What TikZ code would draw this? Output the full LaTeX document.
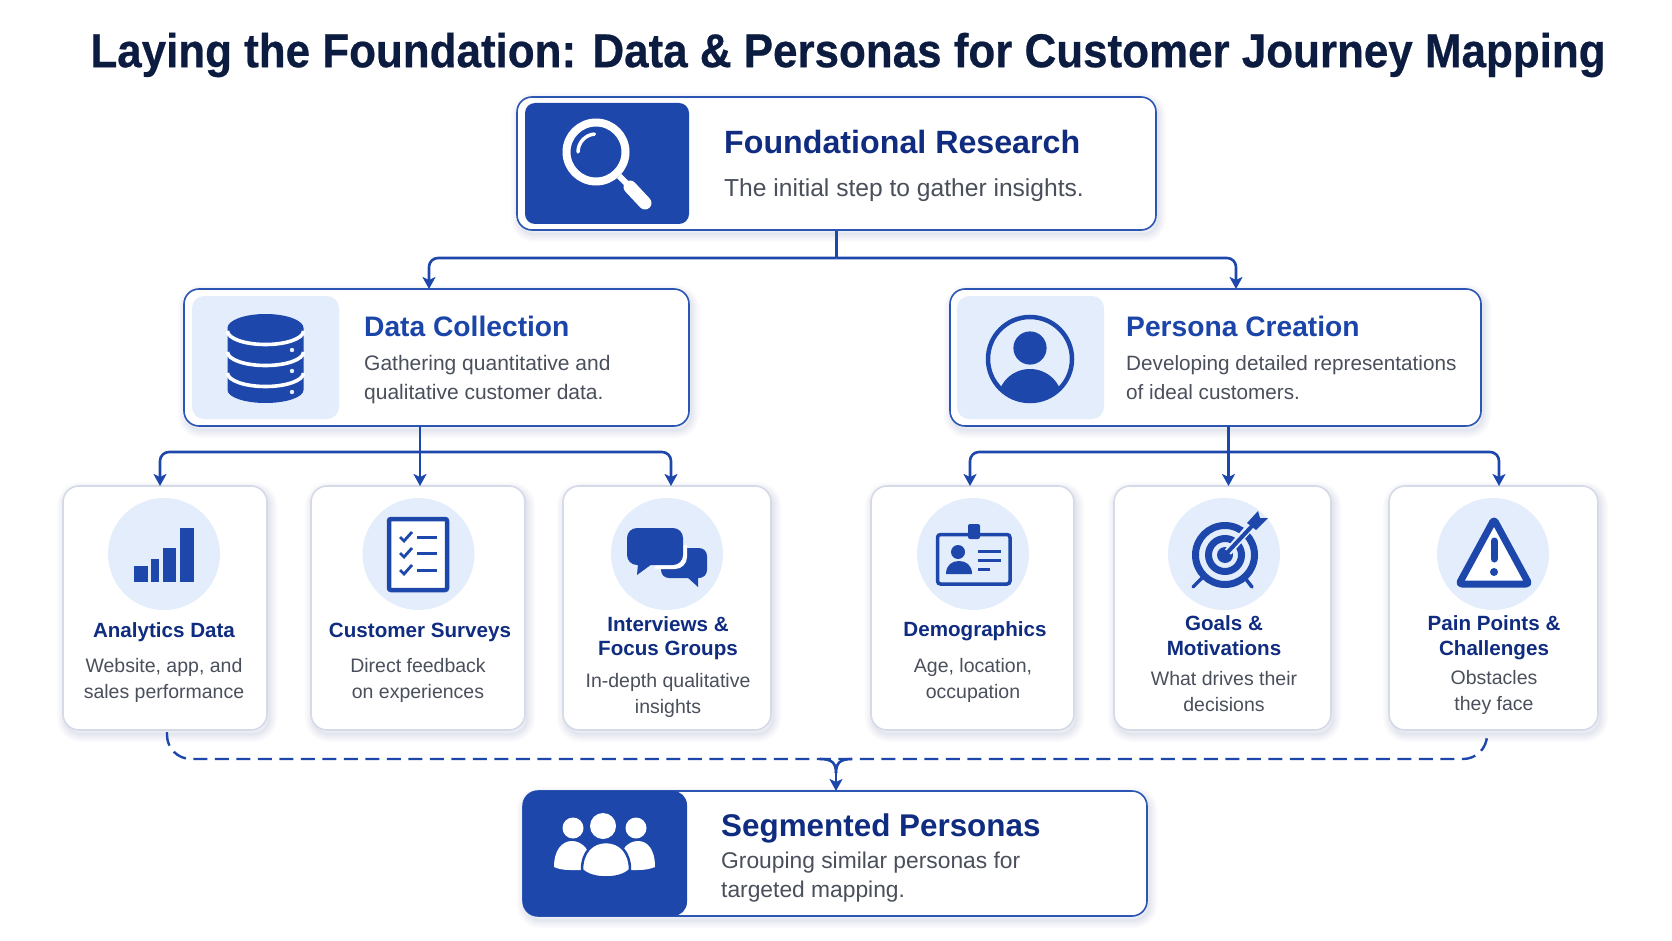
\documentclass[tikz,border=0pt]{standalone}
\usepackage{fontspec}
\setmainfont{Liberation Sans}
\newfontfamily\titlefont[FakeStretch=0.925,FakeBold=0.5]{Liberation Sans Bold}
\usetikzlibrary{arrows.meta,calc,positioning,shadows}
\definecolor{brand}{HTML}{1D47AB}
\definecolor{brandline}{HTML}{2C56B4}
\definecolor{navy}{HTML}{0C1B40}
\definecolor{deep}{HTML}{0F2C80}
\definecolor{mid}{HTML}{1B45A8}
\definecolor{bodygray}{HTML}{4A4F5C}
\definecolor{pale}{HTML}{E4EDFB}
\definecolor{cardline}{HTML}{D5DAE8}
\definecolor{shade}{HTML}{3A4E86}
\tikzset{
    softlayer/.style = {general shadow={fill=none, draw=shade, line width=#1, draw opacity=0.022, shadow xshift=2pt, shadow yshift=-4pt}},
    softshadow/.style = {softlayer=16pt, softlayer=12pt, softlayer=9pt, softlayer=6pt, softlayer=3pt, softlayer=1pt},
    mainbox/.style = {draw=brandline, line width=1.6pt, fill=white, rectangle, rounded corners=15pt, softshadow},
    card/.style = {draw=cardline, line width=1.6pt, fill=white, rectangle, rounded corners=16pt, softshadow, minimum height=244pt},
    darkpanel/.style = {fill=brand, rectangle, rounded corners=10pt, inner sep=0pt},
    palepanel/.style = {fill=pale, rectangle, rounded corners=12pt, inner sep=0pt, minimum width=147pt, minimum height=123pt},
    halo/.style = {fill=pale, circle, inner sep=0pt, minimum size=112pt},
    bigtitle/.style = {inner sep=0pt, anchor=west, text=deep, font=\fontsize{32.2}{36}\selectfont\bfseries},
    midtitle/.style = {inner sep=0pt, anchor=west, text=mid, font=\fontsize{28.2}{34}\selectfont\bfseries},
    cardtitle/.style = {inner sep=0pt, align=center, text=deep, font=\fontsize{20.6}{24.5}\selectfont\bfseries},
    bigtext/.style = {inner sep=0pt, anchor=west, align=left, text=bodygray, font=\fontsize{24.6}{29}\selectfont},
    midtext/.style = {inner sep=0pt, anchor=west, align=left, text=bodygray, font=\fontsize{21}{29}\selectfont},
    cardtext/.style = {inner sep=0pt, align=center, text=bodygray, font=\fontsize{19.5}{26}\selectfont},
    flow/.style = {draw=brand, line width=2.6pt},
    dashflow/.style = {draw=brand, line width=2.4pt, dash pattern=on 14pt off 7.5pt},
}

\begin{document}
\begin{tikzpicture}[x=1pt,y=-1pt,>={Stealth[length=12pt,width=13pt,inset=3pt]}]
		\useasboundingbox (0,0) rectangle (1672,941);
		\fill [white] (0,0) rectangle (1672,941);

		\node [inner sep=0pt, text=navy, font=\titlefont\fontsize{47.5}{50}\selectfont] (heading) at (848,55) {Laying the Foundation: Data \& Personas for Customer Journey Mapping};

		% top box
		\node [mainbox, minimum width=639pt, minimum height=133pt] (research) at (836.5,163.5) {};
		\node [darkpanel, minimum width=164pt, minimum height=121pt] (researchIcon) at (607,163.5) {};
		\node [bigtitle] (researchTitle) at (724,142) {Foundational Research};
		\node [bigtext] (researchText) at (724,190) {The initial step to gather insights.};
		\draw [white, line width=8pt] (596,152) circle [radius=29.5];
		\draw [white, line width=3.5pt, line cap=round] (578,152) arc [start angle=180, end angle=265, radius=18];
		\draw [white, line width=6pt] (619,176) -- (630,187);
		\draw [white, line width=13pt, line cap=round] (630,187) -- (645,203);

		% second row
		\node [mainbox, minimum width=505pt, minimum height=137pt] (data) at (436.5,357.5) {};
		\node [palepanel] (dataIcon) at (265.5,357.5) {};
		\node [midtitle] (dataTitle) at (364,326) {Data Collection};
		\node [midtext] (dataText) at (364,379.5) {Gathering quantitative and\\qualitative customer data.};
		\fill [brand] (227.5,328) -- (227.5,390) arc [x radius=38, y radius=13, start angle=180, end angle=0] -- (303.5,328) arc [x radius=38, y radius=14, start angle=0, end angle=-180] -- cycle;
		\foreach \yy in {331,352,373} {
			\draw [white, line width=3.6pt] (227.5,\yy) arc [x radius=38, y radius=13.5, start angle=180, end angle=0];
		}
		\foreach \yy in {350,371,392} {
			\fill [pale] (292,\yy) circle [radius=2.2];
		}

		\node [mainbox, minimum width=531pt, minimum height=137pt] (persona) at (1215.5,357.5) {};
		\node [palepanel] (personaIcon) at (1030.5,357.5) {};
		\node [midtitle] (personaTitle) at (1126,326) {Persona Creation};
		\node [midtext, font=\fontsize{20.7}{29}\selectfont] (personaText) at (1126,377.5) {Developing detailed representations\\of ideal customers.};
		\begin{scope}
			\clip (1030,359) circle [radius=42];
			\fill [brand] (1030,400) ellipse [x radius=32, y radius=31];
		\end{scope}
		\draw [brand, line width=4.5pt] (1030,359) circle [radius=42];
		\fill [brand] (1030,348) circle [radius=16.6];

		% third row
		\node [card, minimum width=204pt] (analytics) at (165,608) {};
		\node [halo] (analyticsIcon) at (164,554) {};
		\node [cardtitle] (analyticsTitle) at (164,632) {Analytics Data};
		\node [cardtext] (analyticsText) at (164,680.5) {Website, app, and\\sales performance};
		\fill [brand] (134.3,565.7) rectangle (147.7,582);
		\fill [brand] (151.3,558.7) rectangle (159,582);
		\fill [brand] (162.7,548) rectangle (175.7,582);
		\fill [brand] (180,528.3) rectangle (193.7,582);

		\node [card, minimum width=214pt] (surveys) at (418,608) {};
		\node [halo] (surveysIcon) at (418.5,554) {};
		\node [cardtitle] (surveysTitle) at (420,632) {Customer Surveys};
		\node [cardtext] (surveysText) at (418,680.5) {Direct feedback\\on experiences};
		\draw [brand, fill=white, line width=4.5pt, rounded corners=2pt] (389,519) rectangle (447,590);
		\foreach \yy in {537,553,570} {
			\draw [brand, line width=2.8pt] (400,\yy) -- ++(4,4) -- ++(8,-9);
			\draw [brand, line width=3pt] (417,\yy) -- ++(20,0);
		}

		\node [card, minimum width=208pt] (interviews) at (667,608) {};
		\node [halo] (interviewsIcon) at (667,554) {};
		\node [cardtitle] (interviewsTitle) at (668,638) {Interviews \&\\Focus Groups};
		\node [cardtext] (interviewsText) at (668,695.5) {In-depth qualitative\\insights};
		\fill [brand, rounded corners=8pt] (661,548) rectangle (707,578);
		\fill [brand] (687,577) -- (698,587) -- (698,577) -- cycle;
		\begin{scope}
			\clip (655,545) rectangle (710,582);
			\fill [white, rounded corners=12pt] (623,524) rectangle (687,569);
		\end{scope}
		\fill [brand, rounded corners=10pt] (627,528) rectangle (683,565);
		\fill [brand] (638,564) -- (637,575) -- (652,564) -- cycle;

		\node [card, minimum width=203pt] (demographics) at (972.5,608) {};
		\node [halo] (demographicsIcon) at (973,554) {};
		\node [cardtitle] (demographicsTitle) at (975,631) {Demographics};
		\node [cardtext] (demographicsText) at (973,680) {Age, location,\\occupation};
		\draw [brand, line width=3.5pt, rounded corners=3pt] (937.5,534.5) rectangle (1010,584);
		\fill [brand, rounded corners=2pt] (968,524) rectangle (980,539);
		\fill [brand] (958,552) circle [radius=7];
		\fill [brand] (946,574) .. controls (946,565) and (952,561) .. (959,561) .. controls (966,561) and (972,565) .. (972,574) -- cycle;
		\draw [brand, line width=3pt] (978,551) -- (1001,551);
		\draw [brand, line width=3pt] (978,560) -- (1001,560);
		\draw [brand, line width=3pt] (978,569) -- (990,569);

		\node [card, minimum width=217pt] (goals) at (1222.5,608) {};
		\node [halo] (goalsIcon) at (1224,554) {};
		\node [cardtitle] (goalsTitle) at (1224,635.5) {Goals \&\\Motivations};
		\node [cardtext] (goalsText) at (1224,691.5) {What drives their\\decisions};
		\draw [brand, line width=3.5pt, line cap=round] (1193,587) -- (1202,578);
		\draw [brand, line width=3.5pt, line cap=round] (1252,587) -- (1245,578);
		\draw [brand, line width=7pt] (1225,555) circle [radius=29.5];
		\draw [brand, line width=7pt] (1225,555) circle [radius=16.5];
		\fill [brand] (1225,555) circle [radius=8];
		\draw [pale, line width=8pt] (1228,552) -- (1250,527);
		\draw [brand, line width=4pt] (1225,555) -- (1252,526);
		\fill [brand] (1247,523) -- (1258,511) -- (1260,518) -- (1268,518) -- (1256,530) -- cycle;

		\node [card, minimum width=209pt] (pain) at (1493.5,608) {};
		\node [halo] (painIcon) at (1493,554) {};
		\node [cardtitle] (painTitle) at (1494,637.5) {Pain Points \&\\Challenges};
		\node [cardtext] (painText) at (1494,692.5) {Obstacles\\they face};
		\draw [brand, line width=7pt, line join=round, rounded corners=3pt, fill=white] (1494,519.5) -- (1459,584) -- (1529,584) -- cycle;
		\draw [brand, line width=7pt, line cap=round] (1494,541) -- (1494,559);
		\fill [brand] (1494,572) circle [radius=4];

		% bottom box
		\node [mainbox, minimum width=624pt, minimum height=125pt] (segmented) at (835,853.5) {};
		\node [darkpanel, rounded corners=14pt, minimum width=164pt, minimum height=125pt] (segmentedIcon) at (605,853.5) {};
		\node [bigtitle, font=\fontsize{31.4}{36}\selectfont\bfseries] (segmentedTitle) at (721,828) {Segmented Personas};
		\node [bigtext, font=\fontsize{22.8}{28.6}\selectfont] (segmentedText) at (721,877) {Grouping similar personas for\\targeted mapping.};
		\fill [white] (573,828) circle [radius=10.5];
		\fill [white] (636,828) circle [radius=10.5];
		\fill [white] (603,826) circle [radius=13];
		\fill [white] (554,867) .. controls (554,850) and (562,841) .. (572,841) .. controls (582,841) and (592,850) .. (592,870) -- (570,870) .. controls (564,870) and (558,869) .. (554,867) -- cycle;
		\fill [white] (618,870) .. controls (618,850) and (628,841) .. (638,841) .. controls (648,841) and (655,850) .. (655,867) .. controls (650,869) and (645,870) .. (638,870) -- cycle;
		\draw [brand, line width=2.5pt, fill=white] (582,870) .. controls (582,852) and (592,842) .. (606,842) .. controls (620,842) and (630,852) .. (630,870) .. controls (620,880) and (592,880) .. (582,870) -- cycle;

		%% connecting lines
		\coordinate (busTop) at (836.5,258);
		\coordinate (dataIn) at (429,289);
		\coordinate (personaIn) at (1236,289);
		\draw [flow] (research.south) -- (busTop);
		\draw [flow, ->, rounded corners=9pt] (busTop) -| (dataIn);
		\draw [flow, ->, rounded corners=9pt] (busTop) -| (personaIn);

		\coordinate (dataStem) at (420,426);
		\coordinate (dataBus) at (420,452);
		\coordinate (analyticsIn) at (160,486);
		\coordinate (surveysIn) at (420,486);
		\coordinate (interviewsIn) at (671,486);
		\draw [flow, ->] (dataStem) -- (surveysIn);
		\draw [flow, ->, rounded corners=9pt] (dataBus) -| (analyticsIn);
		\draw [flow, ->, rounded corners=9pt] (dataBus) -| (interviewsIn);

		\coordinate (personaStem) at (1228.5,426);
		\coordinate (personaBus) at (1228.5,452);
		\coordinate (demographicsIn) at (970,486);
		\coordinate (goalsIn) at (1228.5,486);
		\coordinate (painIn) at (1499,486);
		\draw [flow, ->] (personaStem) -- (goalsIn);
		\draw [flow, ->, rounded corners=9pt] (personaBus) -| (demographicsIn);
		\draw [flow, ->, rounded corners=9pt] (personaBus) -| (painIn);

		\coordinate (dashLeft) at (167,732);
		\coordinate (dashRight) at (1487,732);
		\coordinate (dashMid) at (836,759);
		\coordinate (joinLeft) at (820,759);
		\coordinate (joinRight) at (852,759);
		\coordinate (joinDown) at (836,773);
		\coordinate (segmentedIn) at (836,791);
		\draw [dashflow, rounded corners=24pt] (dashLeft) |- (dashMid) -| (dashRight);
		\draw [flow] (joinLeft) .. controls (832,759) and (836,763) .. (joinDown);
		\draw [flow] (joinRight) .. controls (840,759) and (836,763) .. (joinDown);
		\draw [flow, ->] (joinDown) -- (segmentedIn);

	\end{tikzpicture}
\end{document}
